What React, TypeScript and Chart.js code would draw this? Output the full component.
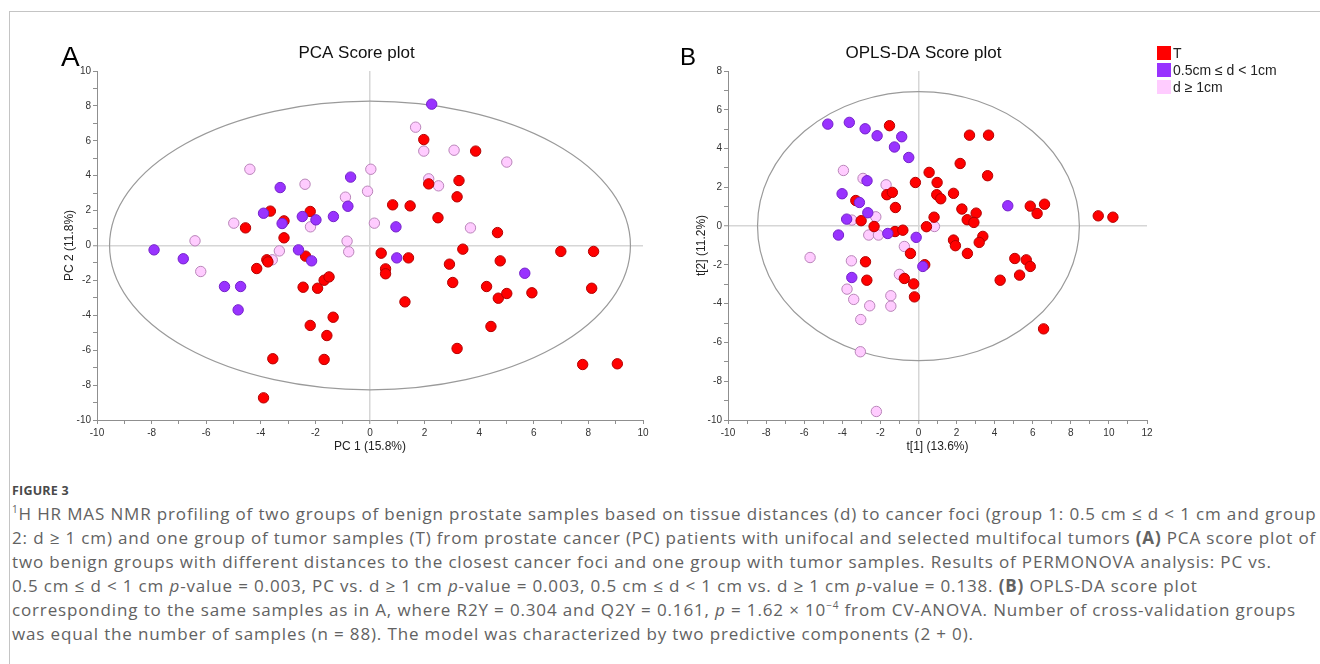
import React, { useEffect, useRef } from "react";
import { Chart, registerables } from "chart.js";

Chart.register(...registerables);

const FONT = '"Liberation Sans", Arial, Helvetica, sans-serif';
const CAPTION_FONT = '"Open Sans", "Noto Sans", sans-serif';

// ---- groups ----
const GROUP_LABELS = ["T", "0.5cm \u2264 d < 1cm", "d \u2265 1cm"];
const GROUP_FILL = ["#ff0000", "#9933ff", "#ffccff"];
const GROUP_EDGE = ["#b30000", "#7422c9", "#b985b9"];
const GROUP_ORDER = [1, 0, 2];

// ---- (A) PCA score plot ----
const pcaTx = [-4.56, -4.15, -3.78, -3.74, -3.65, -3.15, -3.15, -3.56, -3.9, -2.36, -2.45, -2.19, -1.92, -1.68, -1.5, -2.19, -1.35, -1.58, -1.68, 0.41, 0.57, 0.57, 0.83, 1.47, 1.41, 1.28, 1.97, 2.15, 2.49, 2.91, 3.03, 3.19, 3.26, 3.19, 3.4, 3.87, 4.27, 4.43, 4.67, 4.77, 4.7, 5.01, 5.93, 6.99, 8.19, 8.12, 7.79, 9.06];
const pcaTy = [1.01, -1.32, -0.82, -0.94, 1.97, 1.41, 0.44, -6.49, -8.73, -0.61, -2.39, 1.95, -2.45, -1.99, -1.8, -4.58, -4.11, -5.16, -6.53, -0.44, -1.34, -1.62, 2.33, 2.27, -0.71, -3.23, 6.07, 3.53, 1.59, -1.07, -2.12, 2.79, 3.72, -5.9, -0.21, 5.41, -2.35, -4.64, 0.74, -0.88, -3.02, -2.75, -2.71, -0.34, -0.34, -2.45, -6.82, -6.78];
const pcaNearX = [-7.91, -6.84, -5.33, -4.74, -4.83, -3.9, -3.29, -3.22, -2.62, -2.48, -1.98, -2.14, -1.34, -0.71, -0.81, 0.95, 0.98, 2.26, 5.67];
const pcaNearY = [-0.25, -0.76, -2.35, -2.35, -3.69, 1.85, 3.32, 1.26, -0.25, 1.66, 1.47, -0.88, 1.66, 3.92, 2.25, 1.07, -0.71, 8.1, -1.59];
const pcaFarX = [-6.41, -6.2, -4.99, -4.4, -3.58, -3.32, -2.38, -2.18, -0.9, -0.84, -0.78, -0.09, 0.03, 0.16, 1.67, 1.97, 2.15, 2.51, 3.08, 3.68, 5.01];
const pcaFarY = [0.27, -1.49, 1.28, 4.37, -0.82, -0.31, 3.51, 1.07, 2.77, 0.25, -0.36, 3.11, 4.37, 1.28, 6.78, 5.41, 3.82, 3.42, 5.46, 1.01, 4.78];
const PCA_X_RANGE = [-10, 10];
const PCA_Y_RANGE = [-10, 10];
const PCA_ELLIPSE = [9.54, 8.27]; // Hotelling T2 semi-axes (x, y)

// ---- (B) OPLS-DA score plot ----
const oplsTx = [-1.52, 2.68, 3.68, 2.19, 3.63, 0.56, -0.16, 0.98, 1.84, 0.96, 1.17, -1.66, -1.37, -1.21, -3.29, -3.01, -2.33, -1.23, -0.82, 0.42, 0.82, 2.28, 3.03, 2.56, 2.91, 3.38, 3.19, 1.84, 1.94, 2.57, -0.42, 0.33, -2.78, -2.71, -0.74, -0.25, -0.21, 4.29, 5.06, 5.31, 5.66, 5.87, 5.87, 6.23, 6.62, 9.44, 10.21, 6.57];
const oplsTy = [5.18, 4.69, 4.69, 3.23, 2.6, 2.77, 2.25, 2.25, 1.69, 1.62, 1.41, 1.62, 1.74, 0.96, 1.32, 0.28, -0.02, -0.28, -0.21, -0.03, 0.46, 0.88, 0.67, 0.33, 0.19, -0.53, -0.84, -0.72, -1.01, -1.41, -1.41, -1.99, -1.84, -2.79, -2.7, -2.98, -3.65, -2.79, -1.67, -2.53, -1.74, -2.08, 1.03, 0.65, 1.13, 0.53, 0.46, -5.3];
const oplsNearX = [-4.76, -3.63, -2.8, -2.17, -0.88, -1.26, -0.51, -2.7, -4.01, -3.1, -2.66, -3.77, -4.2, -1.61, -0.12, -3.5, 0.23, 4.69];
const oplsNearY = [5.26, 5.35, 5.02, 4.66, 4.61, 4.08, 3.54, 2.34, 1.67, 1.22, 0.69, 0.36, -0.46, -0.38, -0.58, -2.65, -2.08, 1.05];
const oplsFarX = [-3.94, -2.91, -1.7, -2.24, -3.5, -2.61, -2.1, 0.84, -0.74, -5.69, -3.52, -1.0, -3.75, -3.4, -2.56, -1.45, -1.45, -3.03, -3.05, -2.21];
const oplsFarY = [2.87, 2.46, 2.13, 0.48, 0.31, -0.46, -0.46, -0.02, -1.05, -1.62, -1.79, -2.49, -3.25, -3.78, -4.11, -3.59, -4.13, -4.82, -6.48, -9.56];
const OPLS_X_RANGE = [-10, 12];
const OPLS_Y_RANGE = [-10, 8];
const OPLS_ELLIPSE = [8.45, 6.94];

const ellipsePlugin = {
  id: "hotelling",
  beforeDatasetsDraw(chart: any, _args: any, opts: any) {
    const { ctx, scales } = chart;
    const sx = scales.x;
    const sy = scales.y;
    const cx = sx.getPixelForValue(0);
    const cy = sy.getPixelForValue(0);
    const rx = Math.abs(sx.getPixelForValue(opts.rx) - cx);
    const ry = Math.abs(sy.getPixelForValue(opts.ry) - cy);
    ctx.save();
    ctx.beginPath();
    ctx.ellipse(cx, cy, rx, ry, 0, 0, Math.PI * 2);
    ctx.strokeStyle = "#9a9a9a";
    ctx.lineWidth = 1.2;
    ctx.stroke();
    ctx.restore();
  },
};

function makeScale(range: number[], title: string, isX: boolean, size: number, titlePad: any) {
  return {
    type: "linear",
    min: range[0],
    max: range[1],
    afterFit: (s: any) => {
      if (isX) s.height = size;
      else s.width = size;
    },
    ticks: {
      stepSize: 1,
      autoSkip: false,
      maxRotation: 0,
      padding: isX ? 3 : 2,
      color: "#333333",
      font: { family: FONT, size: 10 },
      callback: (v: any) => (Number(v) % 2 === 0 ? String(v) : ""),
    },
    grid: {
      display: true,
      drawOnChartArea: true,
      drawTicks: true,
      color: (c: any) => (c.tick && c.tick.value === 0 ? "#d6d6d6" : "rgba(0,0,0,0)"),
      lineWidth: (c: any) => (c.tick && c.tick.value === 0 ? 1.5 : 1),
      tickColor: "#8f8f8f",
      tickLength: 4,
      tickWidth: 1,
    },
    border: { display: true, color: "#8f8f8f", width: 1 },
    title: {
      display: true,
      text: title,
      color: "#222222",
      font: { family: FONT, size: 12 },
      padding: titlePad,
    },
  };
}

type PanelProps = {
  left: number;
  width: number;
  height: number;
  padLeft: number;
  padRight: number;
  padBottom: number;
  yAxisWidth: number;
  yTitlePad: number;
  title: string;
  xTitle: string;
  yTitle: string;
  xRange: number[];
  yRange: number[];
  ellipse: number[];
  groups: { x: number[]; y: number[] }[];
};

function ScatterPanel(p: PanelProps) {
  const ref = useRef<HTMLCanvasElement | null>(null);
  useEffect(() => {
    if (!ref.current) return;
    const chart = new Chart(ref.current, {
      type: "scatter",
      data: {
        datasets: p.groups.map((g, i) => ({
          label: GROUP_LABELS[i],
          data: g.x.map((x, k) => ({ x, y: g.y[k] })),
          backgroundColor: GROUP_FILL[i],
          borderColor: GROUP_EDGE[i],
          borderWidth: 1,
          pointRadius: 5.2,
          pointHoverRadius: 5.2,
          order: GROUP_ORDER[i],
        })),
      },
      options: {
        responsive: false,
        maintainAspectRatio: false,
        animation: false,
        events: [],
        layout: { padding: { left: p.padLeft, right: p.padRight, top: 0, bottom: p.padBottom } },
        scales: {
          x: makeScale(p.xRange, p.xTitle, true, 34.2, { top: 0, bottom: 0 }) as any,
          y: makeScale(p.yRange, p.yTitle, false, p.yAxisWidth, { top: p.yTitlePad, bottom: 0 }) as any,
        },
        plugins: {
          legend: { display: false },
          tooltip: { enabled: false },
          title: {
            display: true,
            text: p.title,
            color: "#111111",
            font: { family: FONT, size: 17, weight: "normal" as any, lineHeight: 1.2 },
            padding: { top: 43.3, bottom: 7.3 },
          },
          hotelling: { rx: p.ellipse[0], ry: p.ellipse[1] },
        } as any,
      },
      plugins: [ellipsePlugin as any],
    });
    return () => chart.destroy();
  }, []);
  return (
    <canvas
      ref={ref}
      width={p.width}
      height={p.height}
      style={{ position: "absolute", left: p.left, top: 0, width: p.width, height: p.height }}
    />
  );
}

const capLine: React.CSSProperties = {
  whiteSpace: "nowrap",
  height: 24,
  lineHeight: "24px",
  fontSize: 17,
  letterSpacing: "0.85px",
};

export default function App() {
  return (
    <div
      style={{
        position: "absolute",
        left: 0,
        top: 0,
        width: 1320,
        height: 664,
        background: "#ffffff",
        overflow: "hidden",
      }}
    >
      <div
        style={{
          position: "absolute",
          left: 9,
          top: 11,
          width: 1320,
          height: 660,
          borderTop: "1px solid #c4c4c4",
          borderLeft: "1px solid #c4c4c4",
        }}
      />
      <ScatterPanel
        left={50}
        width={610}
        height={470}
        padLeft={20}
        padRight={17}
        padBottom={15.8}
        yAxisWidth={27}
        yTitlePad={-7.7}
        title="PCA Score plot"
        xTitle="PC 1 (15.8%)"
        yTitle="PC 2 (11.8%)"
        xRange={PCA_X_RANGE}
        yRange={PCA_Y_RANGE}
        ellipse={PCA_ELLIPSE}
        groups={[
          { x: pcaTx, y: pcaTy },
          { x: pcaNearX, y: pcaNearY },
          { x: pcaFarX, y: pcaFarY },
        ]}
      />
      <ScatterPanel
        left={660}
        width={507}
        height={470}
        padLeft={40}
        padRight={20}
        padBottom={15.8}
        yAxisWidth={28}
        yTitlePad={-5.5}
        title="OPLS-DA Score plot"
        xTitle="t[1] (13.6%)"
        yTitle="t[2] (11.2%)"
        xRange={OPLS_X_RANGE}
        yRange={OPLS_Y_RANGE}
        ellipse={OPLS_ELLIPSE}
        groups={[
          { x: oplsTx, y: oplsTy },
          { x: oplsNearX, y: oplsNearY },
          { x: oplsFarX, y: oplsFarY },
        ]}
      />
      <div style={{ position: "absolute", left: 61, top: 43.3, fontFamily: FONT, fontSize: 28, lineHeight: "28px", color: "#000" }}>A</div>
      <div style={{ position: "absolute", left: 680, top: 45, fontFamily: FONT, fontSize: 24, lineHeight: "24px", color: "#000" }}>B</div>

      <div style={{ position: "absolute", left: 1157, top: 44.5, fontFamily: FONT, fontSize: 14, color: "#222", zIndex: 2 }}>
        {GROUP_LABELS.map((lab, i) => (
          <div key={lab} style={{ display: "flex", alignItems: "center", height: 17 }}>
            <span style={{ display: "inline-block", width: 14, height: 14, background: GROUP_FILL[i], marginRight: 2 }} />
            <span style={{ lineHeight: "17px", whiteSpace: "nowrap" }}>{lab}</span>
          </div>
        ))}
      </div>

      <div
        style={{
          position: "absolute",
          left: 12,
          top: 483,
          fontFamily: '"Liberation Sans Narrow", "Open Sans", sans-serif',
          fontWeight: 700,
          fontSize: 12.5,
          lineHeight: "16px",
          color: "#4a4a4a",
          letterSpacing: "0.2px",
        }}
      >
        FIGURE 3
      </div>
      <div style={{ position: "absolute", left: 12, top: 502, fontFamily: CAPTION_FONT, color: "#626262" }}>
        <div style={capLine}>
          <sup style={{ fontSize: 10, lineHeight: 0 }}>1</sup>H HR MAS NMR profiling of two groups of benign prostate samples based on tissue distances (d) to cancer foci (group 1: 0.5 cm ≤ d &lt; 1 cm and group
        </div>
        <div style={capLine}>
          2: d ≥ 1 cm) and one group of tumor samples (T) from prostate cancer (PC) patients with unifocal and selected multifocal tumors <b>(A)</b> PCA score plot of
        </div>
        <div style={capLine}>
          two benign groups with different distances to the closest cancer foci and one group with tumor samples. Results of PERMONOVA analysis: PC vs.
        </div>
        <div style={capLine}>
          0.5 cm ≤ d &lt; 1 cm <i>p</i>-value = 0.003, PC vs. d ≥ 1 cm <i>p</i>-value = 0.003, 0.5 cm ≤ d &lt; 1 cm vs. d ≥ 1 cm <i>p</i>-value = 0.138. <b>(B)</b> OPLS-DA score plot
        </div>
        <div style={capLine}>
          corresponding to the same samples as in A, where R2Y = 0.304 and Q2Y = 0.161, <i>p</i> = 1.62 × 10<sup style={{ fontSize: 10, lineHeight: 0 }}>−4</sup> from CV-ANOVA. Number of cross-validation groups
        </div>
        <div style={capLine}>
          was equal the number of samples (n = 88). The model was characterized by two predictive components (2 + 0).
        </div>
      </div>
    </div>
  );
}
